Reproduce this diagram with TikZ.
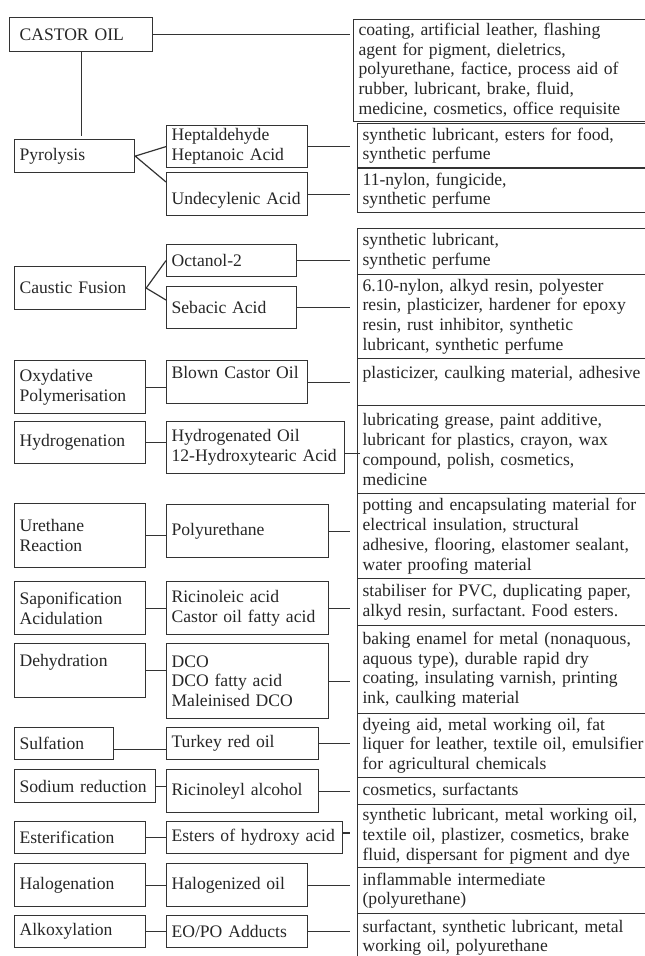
\documentclass[tikz,border=0pt]{standalone}
\usepackage{fontspec}
\setmainfont{Liberation Serif}
\usetikzlibrary{calc}
\frenchspacing

\tikzset{
  box/.style={draw=black!80, line width=1.2pt, text=black!85, anchor=north west,
    align=left, inner xsep=5pt, inner ysep=2pt,
    font=\fontsize{17.6}{19.8}\selectfont},
  stage/.style={box, text width=121pt},
  prod/.style={box},
  use/.style={box, text width=300pt},
  link/.style={draw=black!80, line width=1.2pt},
  tolink/.style={link, shorten >=7pt}
}

\begin{document}
\begin{tikzpicture}[x=1pt, y=-1pt]
  \useasboundingbox (0,0) rectangle (645,956);

  % the oil and its direct uses
  \node[box, inner xsep=10pt, text width=123pt, minimum height=34pt] (castor) at (9,17) {CASTOR OIL};
  \node[use, minimum height=102pt] (use1) at (353,19) {coating, artificial leather, flashing\\agent for pigment, dieletrics,\\polyurethane, factice, process aid of\\rubber, lubricant, brake, fluid,\\medicine, cosmetics, office requisite};

  % processes
  \begin{scope}
    \node[stage, text width=110pt, minimum height=33pt] (pyro) at (14,139) {Pyrolysis};
    \node[stage, minimum height=43pt] (caustic) at (14,266) {Caustic Fusion};
    \node[stage, minimum height=53pt] (oxy) at (14,360) {Oxydative\\Polymerisation};
    \node[stage, minimum height=42pt] (hydrog) at (14,421) {Hydrogenation};
    \node[stage, minimum height=64pt] (ureth) at (14,503) {Urethane\\Reaction};
    \node[stage, minimum height=53pt] (sapon) at (14,581) {Saponification\\Acidulation};
    \node[stage, minimum height=54pt] (dehyd) at (14,643) {Dehydration\\~};
    \node[stage, text width=89pt, minimum height=32pt] (sulf) at (14,727) {Sulfation};
    \node[stage, text width=131pt, minimum height=33pt] (sodium) at (14,769) {Sodium reduction};
    \node[stage, minimum height=32pt] (ester) at (14,821) {Esterification};
    \node[stage, minimum height=43pt] (halog) at (14,863) {Halogenation};
    \node[stage, minimum height=32pt] (alkox) at (14,915) {Alkoxylation};
  \end{scope}

  % products
  \begin{scope}
    \node[prod, text width=131pt, minimum height=42pt] (hept) at (166,125) {Heptaldehyde\\Heptanoic Acid};
    \node[prod, text width=131pt, minimum height=43pt] (undec) at (166,172) {\mbox{}\\[4pt]Undecylenic Acid};
    \node[prod, text width=120pt, minimum height=32pt] (octanol) at (166,244) {Octanol-2};
    \node[prod, text width=120pt, minimum height=42pt] (sebacic) at (166,286) {Sebacic Acid};
    \node[prod, text width=131pt, minimum height=43pt] (blown) at (166,360) {Blown Castor Oil\\~};
    \node[prod, text width=168pt, minimum height=52pt] (hydro) at (166,421) {Hydrogenated Oil\\12-Hydroxytearic Acid};
    \node[prod, text width=152pt, minimum height=53pt] (poly) at (166,504) {Polyurethane};
    \node[prod, text width=152pt, minimum height=53pt] (ricin) at (166,581) {Ricinoleic acid\\Castor oil fatty acid};
    \node[prod, text width=152pt, minimum height=75pt] (dco) at (166,643) {DCO\\DCO fatty acid\\Maleinised DCO};
    \node[prod, text width=142pt, minimum height=32pt] (turkey) at (166,727) {Turkey red oil};
    \node[prod, text width=142pt, minimum height=43pt] (ricinol) at (166,769) {Ricinoleyl alcohol};
    \node[prod, text width=166pt, minimum height=32pt] (esters) at (166,821) {Esters of hydroxy acid};
    \node[prod, text width=131pt, minimum height=43pt] (halo) at (166,863) {Halogenized oil};
    \node[prod, text width=131pt, minimum height=32pt] (eopo) at (166,915) {EO/PO Adducts};
  \end{scope}

  % applications
  \begin{scope}
    \node[use, minimum height=44pt] (use2) at (357,123) {synthetic lubricant, esters for food,\\synthetic perfume};
    \node[use, minimum height=44pt] (use3) at (357,168) {11-nylon, fungicide,\\synthetic perfume};
    \node[use, minimum height=46pt] (use4) at (357,228) {synthetic lubricant,\\synthetic perfume};
    \node[use, minimum height=84pt] (use5) at (357,274) {6.10-nylon, alkyd resin, polyester\\resin, plasticizer, hardener for epoxy\\resin, rust inhibitor, synthetic\\lubricant, synthetic perfume};
    \node[use, minimum height=47pt] (use6) at (357,358) {plasticizer, caulking material, adhesive\\~};
    \node[use, minimum height=88pt] (use7) at (357,405) {lubricating grease, paint additive,\\lubricant for plastics, crayon, wax\\compound, polish, cosmetics,\\medicine};
    \node[use, minimum height=85pt] (use8) at (357,493) {potting and encapsulating material for\\electrical insulation, structural\\adhesive, flooring, elastomer sealant,\\water proofing material};
    \node[use, minimum height=47pt] (use9) at (357,578) {stabiliser for PVC, duplicating paper,\\alkyd resin, surfactant. Food esters.};
    \node[use, minimum height=88pt] (use10) at (357,625) {baking enamel for metal (nonaquous,\\aquous type), durable rapid dry\\coating, insulating varnish, printing\\ink, caulking material};
    \node[use, minimum height=64pt] (use11) at (357,713) {dyeing aid, metal working oil, fat\\liquer for leather, textile oil, emulsifier\\for agricultural chemicals};
    \node[use, minimum height=27pt] (use12) at (357,777) {cosmetics, surfactants};
    \node[use, minimum height=63pt] (use13) at (357,804) {synthetic lubricant, metal working oil,\\textile oil, plastizer, cosmetics, brake\\fluid, dispersant for pigment and dye};
    \node[use, minimum height=46pt] (use14) at (357,867) {inflammable intermediate\\(polyurethane)};
    \node[use, minimum height=48pt] (use15) at (357,913) {surfactant, synthetic lubricant, metal\\working oil, polyurethane};
  \end{scope}

  % process links
  \draw[link, shorten >=3pt] (castor.east) -- (castor.east -| use1.west);
  \draw[link, shorten >=3pt] (castor.south) -- (castor.south |- pyro.north);
  \draw[link] (hept.west) -- (pyro.east) -- ($(undec.north west)+(0,10)$);
  \draw[link] (octanol.west) -- (caustic.east) -- ($(sebacic.north west)+(0,14)$);
  \foreach \a/\b in {oxy/blown, hydrog/hydro, ureth/poly, sapon/ricin, dehyd/dco,
                     sodium/ricinol, ester/esters, halog/halo, alkox/eopo}
    \draw[link] (\a.east) -- (\a.east -| \b.west);
  \draw[link] ($(sulf.east)+(0,6)$) -- ($(sulf.east -| turkey.west)+(0,6)$);

  % product links
  \foreach \a/\b in {hept/use2, undec/use3, octanol/use4, sebacic/use5, blown/use6,
                     poly/use8, ricin/use9, dco/use10, turkey/use11, ricinol/use12,
                     halo/use14, eopo/use15}
    \draw[tolink] (\a.east) -- (\a.east -| \b.west);
  \draw[link] ($(hydro.east)+(0,6)$) -- ($(hydro.east -| use7.west)+(3,6)$);
  \coordinate (stub) at (350,833);
  \draw[link] (esters.east |- stub) -- (stub);
\end{tikzpicture}
\end{document}
